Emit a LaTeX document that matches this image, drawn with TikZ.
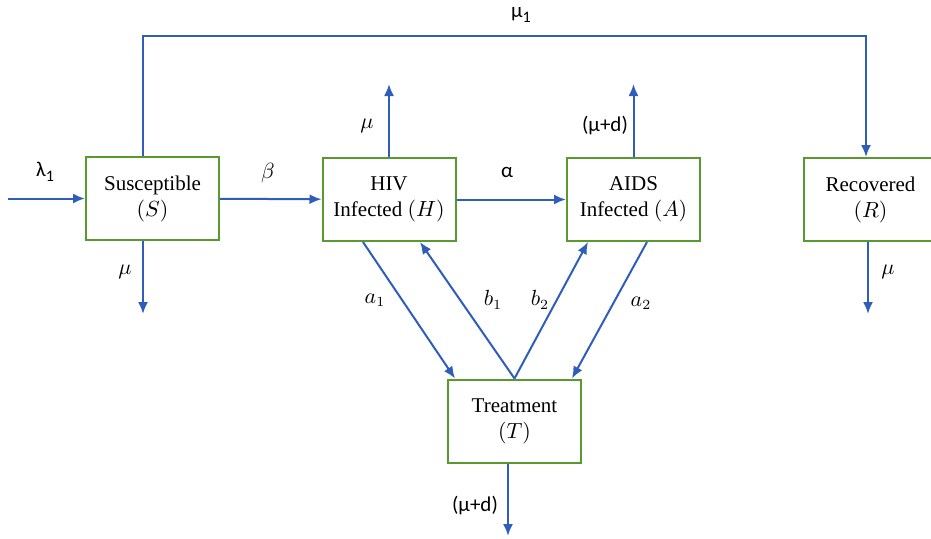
\documentclass[tikz,border=0pt]{standalone}
\usepackage{fontspec}
\setmainfont{Liberation Serif}
\newfontfamily\calib{Carlito}
\usetikzlibrary{arrows.meta}
\usetikzlibrary{positioning}
\definecolor{flowblue}{RGB}{47,94,186}
\definecolor{boxgreen}{RGB}{88,154,48}
\newcommand{\lowsub}[1]{\raisebox{-0.45ex}{\footnotesize #1}}
\tikzset{box/.style = {draw=boxgreen, line width=1pt, minimum width=66.5pt, minimum height=41.5pt, align=center, inner sep=0, font=\fontsize{10.5}{13}\selectfont, execute at begin node={\rule{0pt}{12.5pt}}}}
\tikzset{flow/.style = {draw=flowblue, line width=1pt, -{Latex[length=6pt,width=5pt]}}}
\tikzset{lab/.style = {font=\fontsize{10.5}{13}\selectfont}}
\begin{document}
\begin{tikzpicture}[x=0.5pt,y=-0.5pt]
    \useasboundingbox (0,0) rectangle (931,538);
    % compartments
    \node[box] (S) at (152.5,198.5) {Susceptible\\$(S)$};
    \node[box] (H) at (389,199.5) {HIV\\Infected $(H)$};
    \node[box] (A) at (633.5,199.5) {AIDS\\Infected $(A)$};
    \node[box] (R) at (870.5,199.5) {Recovered\\$(R)$};
    \node[box] (T) at (514.5,421) {Treatment\\$(T)$};
    % free ends
    \coordinate (in) at (8,198.5);
    \coordinate (Sout) at (143,314);
    \coordinate (Sup) at (143,36);
    \coordinate (Rin) at (866,36);
    \coordinate (Hout) at (389,84);
    \coordinate (Aout) at (633.5,84);
    \coordinate (Rout) at (868,314);
    \coordinate (Tout) at (508,536);
    % flows
    \draw[flow] (in) -- (S) node[lab] at (45,172) {\calib λ\lowsub{1}};
    \draw[flow] (S) -- (H) node[lab] at (268,173) {$\beta$};
    \draw[flow] (H) -- (A) node[lab] at (507,172) {\calib α};
    \draw[flow] (S.south -| Sout) -- (Sout) node[lab] at (125,272) {$\mu$};
    \draw[flow] (S.north -| Sup) -- (Sup) -- (Rin) -- (R.north -| Rin) node[lab] at (521,15) {\calib μ\lowsub{1}};
    \draw[flow] (H) -- (Hout) node[lab] at (367,126) {$\mu$};
    \draw[flow] (A) -- (Aout) node[lab] at (605,126) {\calib (μ+d)};
    \draw[flow] (R.south -| Rout) -- (Rout) node[lab] at (888,272) {$\mu$};
    \draw[flow] (T.south -| Tout) -- (Tout) node[lab] at (475,505) {\calib (μ+d)};
    \draw[flow] ([xshift=-13pt]H.south) -- ([xshift=-29.75pt]T.north) node[lab] at (375,300) {$a_1$};
    \draw[flow] (T.north) -- ([xshift=15.5pt]H.south) node[lab] at (493,300) {$b_1$};
    \draw[flow] (T.north) -- ([xshift=-22.75pt]A.south) node[lab] at (540,300) {$b_2$};
    \draw[flow] ([xshift=6.75pt]A.south) -- ([xshift=28.75pt]T.north) node[lab] at (641,303) {$a_2$};
\end{tikzpicture}
\end{document}
